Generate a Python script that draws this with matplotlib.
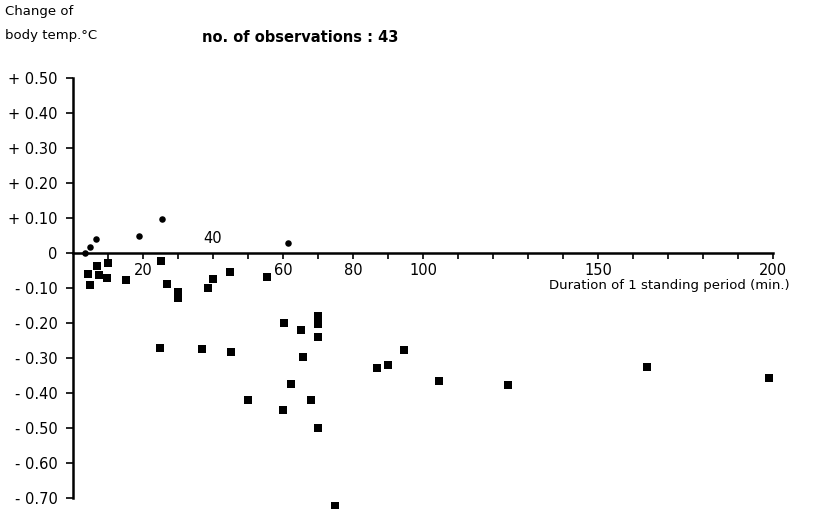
import numpy as np
import matplotlib
matplotlib.use('Agg')
import matplotlib.pyplot as plt

# DATA
# rises in body temp. (round dots)
pos_min = [3.4, 4.9, 6.6, 18.9, 25.4, 61.4]
pos_temp = [0.0, 0.017, 0.04, 0.049, 0.097, 0.03]

# falls in body temp. (square dots)
neg_min = [4.3, 6.9, 7.4, 10, 9.7, 4.9, 15.1, 25.1, 26.9, 30, 30, 38.6, 40, 44.9, 55.4,
           24.9, 36.9, 45.1, 50, 60.3, 60, 62.3, 65.1, 65.8, 68, 70, 70, 70, 70, 74.9,
           86.9, 90, 94.6, 104.6, 124.3, 164, 198.9]
neg_temp = [-0.06, -0.037, -0.063, -0.029, -0.071, -0.09, -0.077, -0.023, -0.089, -0.11, -0.128,
            -0.10, -0.074, -0.054, -0.068, -0.271, -0.275, -0.283, -0.42, -0.20, -0.449, -0.374,
            -0.22, -0.297, -0.42, -0.18, -0.203, -0.24, -0.50, -0.723, -0.329, -0.32, -0.277,
            -0.366, -0.377, -0.326, -0.357]

y_ticks = [0.5, 0.4, 0.3, 0.2, 0.1, 0, -0.1, -0.2, -0.3, -0.4, -0.5, -0.6, -0.7]
y_labels = ['+ 0.50', '+ 0.40', '+ 0.30', '+ 0.20', '+ 0.10', '0',
            '- 0.10', '- 0.20', '- 0.30', '- 0.40', '- 0.50', '- 0.60', '- 0.70']
x_label_pos = [20, 40, 60, 80, 100, 150, 200]
n_obs = len(pos_min) + len(neg_min)

W, H = 816, 509
fig = plt.figure(figsize=(W / 100, H / 100), dpi=100)
ax = fig.add_axes([73 / W, 0, (808 - 73) / W, 438 / H])
ax.set_xlim(0, 210)
ax.set_ylim(-0.7314, 0.52)

ax.scatter(pos_min, pos_temp, marker='o', s=22, color='black', linewidths=0, clip_on=False, zorder=3)
ax.scatter(neg_min, neg_temp, marker='s', s=28, color='black', linewidths=0, clip_on=False, zorder=3)

# axes through the origin
for s in ['top', 'right']:
    ax.spines[s].set_visible(False)
ax.spines['left'].set_position(('data', 0))
ax.spines['left'].set_bounds(-0.7, 0.5)
ax.spines['bottom'].set_position(('data', 0))
ax.spines['bottom'].set_bounds(0, 200)
ax.spines['left'].set_linewidth(1.8)
ax.spines['bottom'].set_linewidth(1.8)

ax.set_yticks(y_ticks)
ax.set_yticklabels(y_labels, fontsize=10.5)
ax.tick_params(axis='y', direction='out', length=5, width=1.2, pad=6)

ax.set_xticks(np.arange(10, 201, 10))
ax.set_xticklabels([])
ax.tick_params(axis='x', direction='out', length=4, width=1.2)

for v in x_label_pos:
    if v == 40:
        ax.text(v, 0.02, str(v), ha='center', va='bottom', fontsize=10.5)
    else:
        ax.text(v, -0.028, str(v), ha='center', va='top', fontsize=10.5)

fig.text(790 / W, 1 - 286 / H, 'Duration of 1 standing period (min.)', ha='right', va='center', fontsize=9.5)
fig.text(5 / W, 1 - 12 / H, 'Change of', ha='left', va='center', fontsize=9.5)
fig.text(5 / W, 1 - 36 / H, 'body temp.°C', ha='left', va='center', fontsize=9.5)
fig.text(300 / W, 1 - 37 / H, 'no. of observations : %d' % n_obs, ha='center', va='center',
         fontsize=10.5, fontweight='bold')

fig.savefig('out.png', dpi=100)
